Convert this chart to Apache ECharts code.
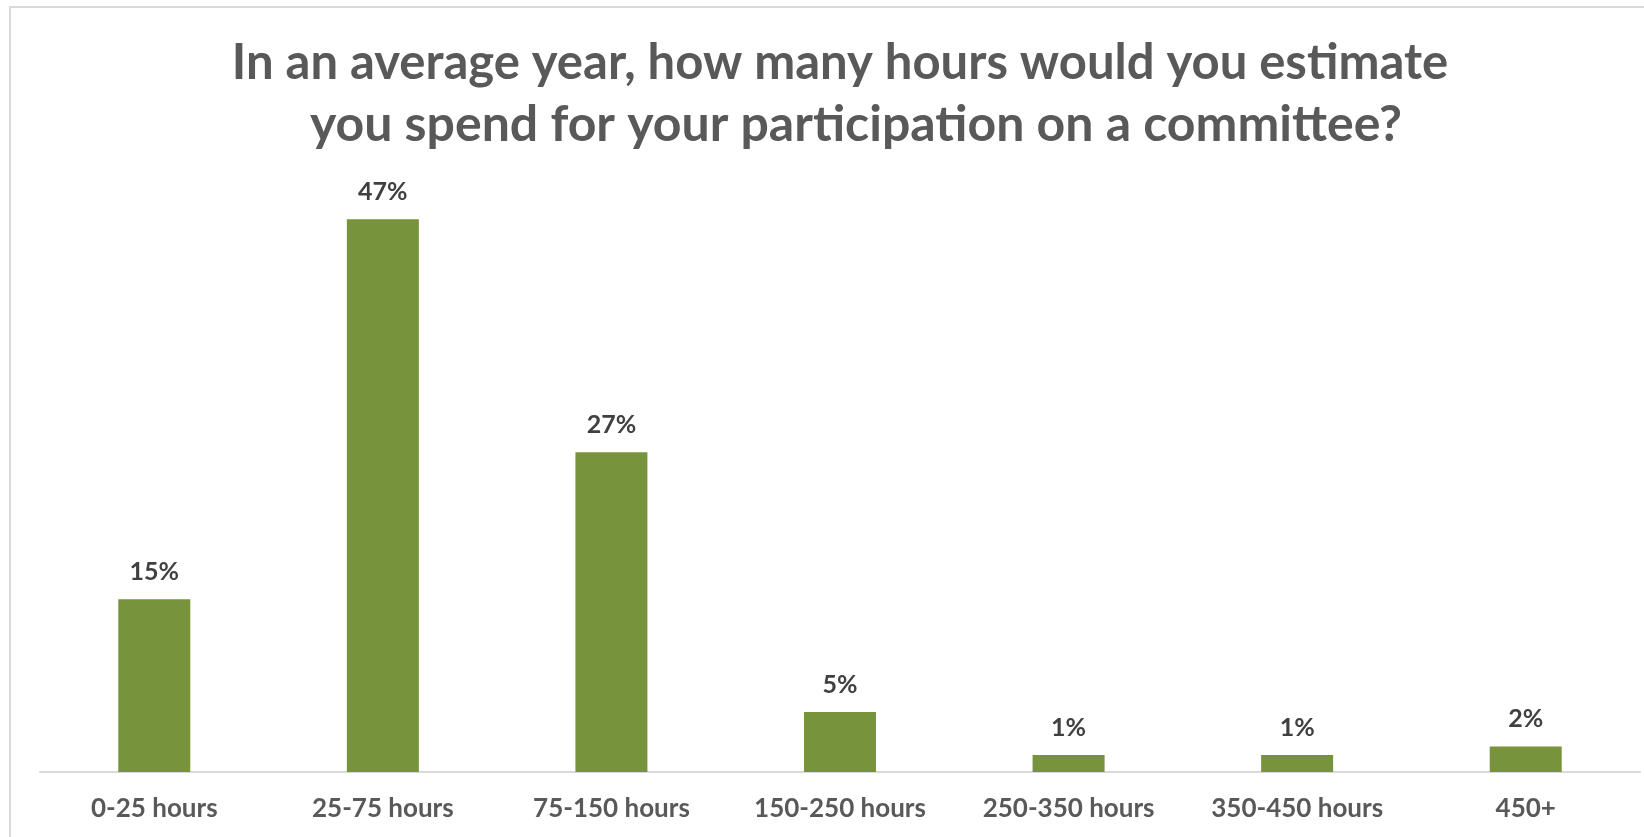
<!DOCTYPE html>
<html>
<head>
<meta charset="utf-8">
<script src="https://cdn.jsdelivr.net/npm/echarts@6/dist/echarts.min.js"></script>
<style>
html,body{margin:0;padding:0;background:#fff;}
#chart{width:1644px;height:837px;}
</style>
</head>
<body>
<div id="chart"></div>
<script>
const titleLines = ['In an average year, how many hours would you estimate', 'you spend for your participation on a committee?'];
const categories = ['0-25 hours', '25-75 hours', '75-150 hours', '150-250 hours', '250-350 hours', '350-450 hours', '450+'];
const shares = [0.147, 0.47, 0.272, 0.051, 0.0144, 0.0144, 0.0217];

const titleStyle = {
  fontFamily: 'Lato',
  fontWeight: 'bold',
  fontSize: 49,
  lineHeight: 60,
  color: '#595959'
};

const chart = echarts.init(document.getElementById('chart'), null, {renderer: 'canvas'});
chart.setOption({
  backgroundColor: '#ffffff',
  animation: false,
  title: [
    {text: titleLines[0], left: 835, top: 28, textAlign: 'center', textStyle: titleStyle},
    {text: titleLines[1], left: 851, top: 90, textAlign: 'center', textStyle: Object.assign({}, titleStyle, {fontSize: 50})}
  ],
  graphic: [{
    type: 'rect',
    shape: {x: 10, y: 7, width: 1700, height: 900},
    style: {fill: 'none', stroke: '#d9d9d9', lineWidth: 2},
    silent: true,
    z: -1
  }],
  grid: {left: 40, right: 4, top: 184, bottom: 65, containLabel: false},
  xAxis: {
    type: 'category',
    data: categories,
    axisLine: {show: true, lineStyle: {color: '#d9d9d9', width: 2}},
    axisTick: {show: false},
    axisLabel: {
      interval: 0,
      margin: 24,
      fontFamily: 'Lato',
      fontWeight: 'bold',
      fontSize: 26,
      color: '#595959'
    }
  },
  yAxis: {
    type: 'value',
    min: 0,
    max: 0.5,
    show: false,
    splitLine: {show: false}
  },
  series: [{
    type: 'bar',
    data: shares,
    barWidth: 72,
    itemStyle: {color: '#77933c'},
    label: {
      show: true,
      position: 'top',
      distance: 15,
      fontFamily: 'Lato',
      fontWeight: 'bold',
      fontSize: 25,
      color: '#404040',
      formatter: p => Math.round(p.value * 100) + '%'
    }
  }]
});
</script>
</body>
</html>
